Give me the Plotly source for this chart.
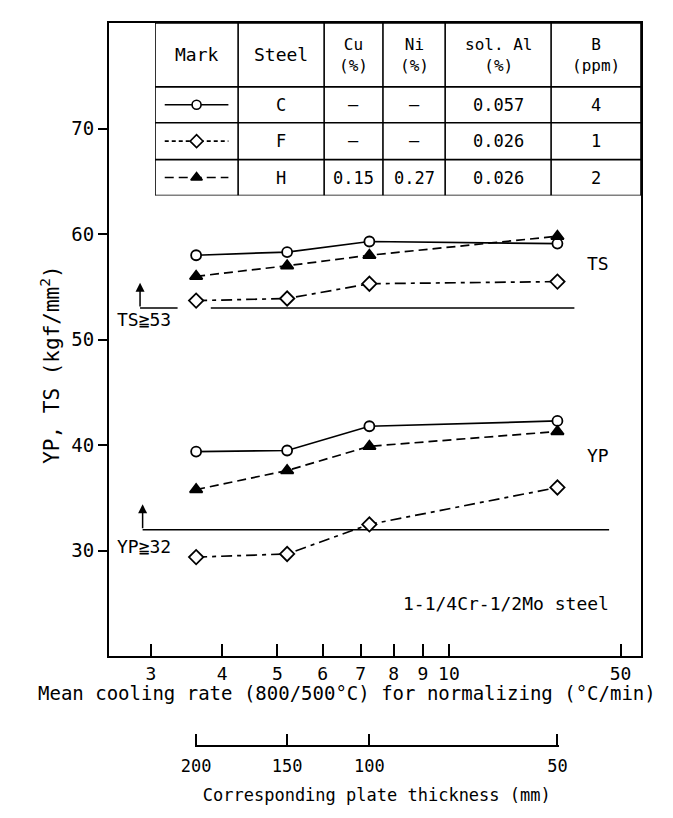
import numpy as np
import plotly.graph_objects as go

# ---------------- data ----------------
cooling_rate = [3.6, 5.2, 7.25, 15.5]          # deg C/min (plot positions)
thickness_labels = ["200", "150", "100", "50"]   # mm
ts_C = [58.0, 58.3, 59.3, 59.1]
ts_F = [53.7, 53.9, 55.3, 55.5]
ts_H = [56.0, 57.0, 58.0, 59.8]
yp_C = [39.4, 39.5, 41.8, 42.3]
yp_F = [29.4, 29.7, 32.5, 36.0]
yp_H = [35.8, 37.6, 39.9, 41.3]

x_tickvals = [3, 4, 5, 6, 7, 8, 9, 10, 20]
x_ticktext = ["3", "4", "5", "6", "7", "8", "9", "10", "50"]
y_tickvals = [30, 40, 50, 60, 70]

ts_min = 53
yp_min = 32
ts_line_x = [2.87, 3.34, None, 3.82, 16.6]
yp_line_x = [2.90, 19.1]
ts_arrow_top = 55.4
yp_arrow_top = 34.4

table_header = ["Mark", "Steel", "Cu<br>(%)", "Ni<br>(%)", "sol. Al<br>(%)", "B<br>(ppm)"]
steels = ["C", "F", "H"]
cu = ["—", "—", "0.15"]
ni = ["—", "—", "0.27"]
sol_al = ["0.057", "0.026", "0.026"]
boron = ["4", "1", "2"]

# ---------------- layout constants ----------------
FONT = "DejaVu Sans Mono"
x_range = [0.4034, 1.337]
y_range = [20, 80]
main_dom = [0.124, 1.0]
table_x_dom = [0.0865, 1.0]
table_y_dom = [0.7614, 1.0]
col_edges = [0, 0.171, 0.348, 0.469, 0.597, 0.815, 1.0]
row_edges = [1.0, 0.63, 0.422, 0.208, 0.0]

styles = {
    "C": dict(dash="solid", symbol="circle", fill="white", size=10),
    "F": dict(dash="11px,5px,4px,5px", symbol="diamond", fill="white", size=11),
    "H": dict(dash="9px,5px", symbol="triangle-up", fill="black", size=11),
}

fig = go.Figure()

def add_series(y, key):
    s = styles[key]
    fig.add_trace(go.Scatter(
        x=cooling_rate, y=y, mode="lines+markers",
        line=dict(color="black", width=1.7, dash=s["dash"]),
        marker=dict(symbol=s["symbol"], size=s["size"], color=s["fill"],
                    line=dict(color="black", width=1.8)),
        showlegend=False, cliponaxis=False))

# threshold lines (drawn first so markers sit on top)
fig.add_trace(go.Scatter(x=ts_line_x, y=[ts_min if v is not None else None for v in ts_line_x],
                         mode="lines", line=dict(color="black", width=1.5), showlegend=False))
fig.add_trace(go.Scatter(x=yp_line_x, y=[yp_min] * len(yp_line_x),
                         mode="lines", line=dict(color="black", width=1.5), showlegend=False))

for yv, k in [(ts_C, "C"), (ts_F, "F"), (ts_H, "H"), (yp_C, "C"), (yp_F, "F"), (yp_H, "H")]:
    add_series(yv, k)

annotations = []
for xa, ybase, ytop in [(ts_line_x[0], ts_min, ts_arrow_top), (yp_line_x[0], yp_min, yp_arrow_top)]:
    annotations.append(dict(x=np.log10(xa), y=ytop, ax=np.log10(xa), ay=ybase,
                            xref="x", yref="y", axref="x", ayref="y", text="",
                            showarrow=True, arrowhead=2, arrowsize=1.2, arrowwidth=1.5,
                            arrowcolor="black"))

txt = dict(font=dict(family=FONT, size=18, color="black"), showarrow=False)
annotations += [
    dict(x=0.011, y=51.9, xref="paper", yref="y", text="TS≧53", xanchor="left", **txt),
    dict(x=0.011, y=30.4, xref="paper", yref="y", text="YP≧32", xanchor="left", **txt),
    dict(x=0.895, y=57.2, xref="paper", yref="y", text="TS", xanchor="left", **txt),
    dict(x=0.895, y=39.0, xref="paper", yref="y", text="YP", xanchor="left", **txt),
    dict(x=0.944, y=25.0, xref="paper", yref="y", text="1-1/4Cr-1/2Mo steel", xanchor="right", **txt),
    dict(x=0.447, y=0.056, xref="paper", yref="paper",
         text="Mean cooling rate (800/500°C) for normalizing (°C/min)",
         font=dict(family=FONT, size=19, color="black"), showarrow=False),
    dict(x=-0.14, y=0.528, xref="paper", yref="paper", textangle=-90,
         text="YP, TS (kgf/mm<sup>2</sup>)",
         font=dict(family=FONT, size=21, color="black"), showarrow=False),
]

# ---------------- table ----------------
shapes = []
lw = 1.6
for xe in col_edges:
    shapes.append(dict(type="line", xref="x3", yref="y3", x0=xe, x1=xe, y0=0, y1=1,
                       line=dict(color="black", width=lw)))
for ye in row_edges:
    shapes.append(dict(type="line", xref="x3", yref="y3", x0=0, x1=1, y0=ye, y1=ye,
                       line=dict(color="black", width=lw)))

col_c = [(col_edges[i] + col_edges[i + 1]) / 2 for i in range(len(col_edges) - 1)]
row_c = [(row_edges[i] + row_edges[i + 1]) / 2 for i in range(len(row_edges) - 1)]

for i, h in enumerate(table_header):
    two = "<br>" in h
    annotations.append(dict(x=col_c[i], y=row_c[0], xref="x3", yref="y3", text=h,
                            font=dict(family=FONT, size=16 if two else 18, color="black"),
                            showarrow=False))
for r, cols in enumerate(zip(steels, cu, ni, sol_al, boron)):
    for c, v in enumerate(cols):
        annotations.append(dict(x=col_c[c + 1], y=row_c[r + 1], xref="x3", yref="y3", text=v,
                                font=dict(family=FONT, size=17, color="black"), showarrow=False))

mark_x0 = col_edges[0] + 0.02
mark_x1 = col_edges[1] - 0.02
for r, k in enumerate(steels):
    s = styles[k]
    yc = row_c[r + 1]
    fig.add_trace(go.Scatter(x=[mark_x0, col_c[0], mark_x1], y=[yc, yc, yc], mode="lines",
                             line=dict(color="black", width=1.6,
                                       dash=s["dash"] if k != "F" else "4px,3px"),
                             xaxis="x3", yaxis="y3", showlegend=False))
    fig.add_trace(go.Scatter(x=[col_c[0]], y=[yc], mode="markers",
                             marker=dict(symbol=s["symbol"], size=s["size"] - 1, color=s["fill"],
                                         line=dict(color="black", width=1.6)),
                             xaxis="x3", yaxis="y3", showlegend=False))

# invisible trace to create thickness axis
fig.add_trace(go.Scatter(x=cooling_rate, y=[None] * len(cooling_rate), xaxis="x2", yaxis="y",
                         mode="markers", showlegend=False, hoverinfo="skip"))

eps = 0.002
x2_range = [np.log10(cooling_rate[0]) - eps, np.log10(cooling_rate[-1]) + eps]
x2_dom = [(r - x_range[0]) / (x_range[1] - x_range[0]) for r in x2_range]

fig.update_layout(
    width=673, height=818,
    margin=dict(l=101, r=40, t=15, b=80),
    paper_bgcolor="white", plot_bgcolor="rgba(0,0,0,0)",
    font=dict(family=FONT, color="black"),
    xaxis=dict(type="log", range=x_range, domain=[0, 1], anchor="y",
               tickvals=x_tickvals, ticktext=x_ticktext, ticks="inside", ticklen=12,
               tickwidth=1.5, tickcolor="black", showline=True, linecolor="black", linewidth=2,
               mirror=True, showgrid=False, zeroline=False,
               tickfont=dict(family=FONT, size=18, color="black")),
    yaxis=dict(range=y_range, domain=main_dom, anchor="x",
               tickvals=y_tickvals, ticks="outside", ticklen=9, tickwidth=1.5, tickcolor="black",
               showline=True, linecolor="black", linewidth=2, mirror=True,
               showgrid=False, zeroline=False,
               tickfont=dict(family=FONT, size=19, color="black")),
    xaxis2=dict(type="log", domain=x2_dom, range=x2_range,
                anchor="free", position=0, side="bottom",
                tickvals=cooling_rate, ticktext=thickness_labels, ticks="inside", ticklen=11,
                tickwidth=1.5, tickcolor="black", showline=True, linecolor="black", linewidth=1.6,
                showgrid=False, zeroline=False, ticklabelstandoff=5,
                tickfont=dict(family=FONT, size=17, color="black"),
                title=dict(text="Corresponding plate thickness (mm)", standoff=13,
                           font=dict(family=FONT, size=17, color="black"))),
    xaxis3=dict(domain=table_x_dom, range=[0, 1], anchor="y3", visible=False, fixedrange=True),
    yaxis3=dict(domain=table_y_dom, range=[0, 1], anchor="x3", visible=False, fixedrange=True),
    shapes=shapes,
    annotations=annotations,
)

fig.write_html("out.html")
